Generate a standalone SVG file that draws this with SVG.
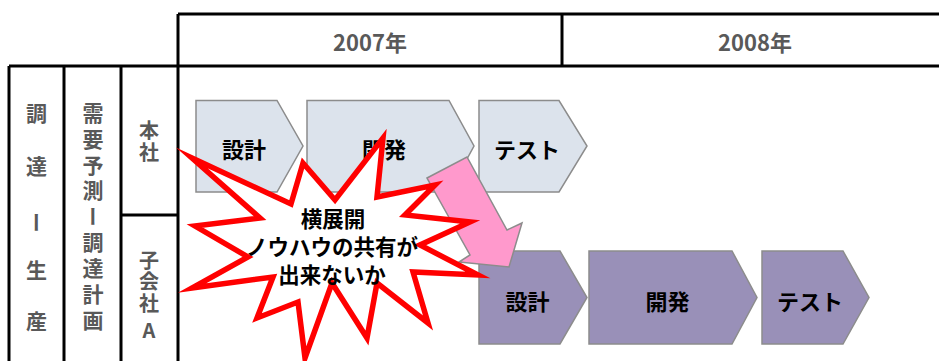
<svg xmlns="http://www.w3.org/2000/svg" width="939" height="361" viewBox="0 0 939 361">
<style>
.grid{stroke:#000;stroke-width:3;fill:none}
.hdr{font-family:"Noto Sans CJK JP","Liberation Sans",sans-serif;font-size:22px;font-weight:bold;fill:#595959;text-anchor:middle;dominant-baseline:central}
.vt{font-family:"Noto Sans CJK JP","Liberation Sans",sans-serif;font-size:21px;font-weight:bold;fill:#595959;text-anchor:middle;writing-mode:vertical-rl;text-orientation:upright}
.sm{font-size:20px}
.c1{fill:#DCE3EC;stroke:#8C8C8C;stroke-width:1.5}
.c2{fill:#9990B8;stroke:#8C8C8C;stroke-width:1.5}
.ct{font-family:"Noto Sans CJK JP","Liberation Sans",sans-serif;font-size:22px;font-weight:bold;fill:#000;text-anchor:middle;dominant-baseline:central}
.st{font-family:"Noto Sans CJK JP","Liberation Sans",sans-serif;font-size:21.5px;font-weight:bold;fill:#000;text-anchor:middle;dominant-baseline:central}
</style>
<rect x="0" y="0" width="939" height="361" fill="#fff"/>
<g id="grid">
<line class="grid" x1="178" y1="14" x2="939" y2="14"/>
<line class="grid" x1="9" y1="66" x2="939" y2="66"/>
<line class="grid" x1="178" y1="14" x2="178" y2="361"/>
<line class="grid" x1="562" y1="14" x2="562" y2="66"/>
<line class="grid" x1="9" y1="66" x2="9" y2="361"/>
<line class="grid" x1="64" y1="66" x2="64" y2="361"/>
<line class="grid" x1="121" y1="66" x2="121" y2="361"/>
<line class="grid" x1="121" y1="215" x2="178" y2="215"/>
</g>
<g id="year2007"><text class="hdr" x="370" y="41">2007年</text></g>
<g id="year2008"><text class="hdr" x="755" y="41">2008年</text></g>
<g id="col-procurement">
<text class="vt" x="36.5" y="113 166 222 270 321">調達ー生産</text>
</g>
<g id="col-plan">
<text class="vt" x="93" y="113 139 165 190 216 242 268 294 320">需要予測ー調達計画</text>
</g>
<g id="row-hq">
<text class="vt sm" x="149" y="130 152">本社</text>
</g>
<g id="row-sub">
<text class="vt sm" x="149" y="260 281.5 303 330">子会社A</text>
</g>
<g id="hq-design"><polygon class="c1" points="196,100.5 277,100.5 303,146 277,192 196,192"/><text class="ct" x="244" y="148">設計</text></g>
<g id="hq-dev"><polygon class="c1" points="307,100.5 449,100.5 474,146 449,192 307,192"/><text class="ct" x="384" y="148">開発</text></g>
<g id="hq-test"><polygon class="c1" points="479,100.5 559,100.5 587,146 559,192 479,192"/><text class="ct" x="527" y="148">テスト</text></g>
<g id="sub-design"><polygon class="c2" points="479,251 560,251 587,297.5 560,344 479,344"/><text class="ct" x="527.5" y="300">設計</text></g>
<g id="sub-dev"><polygon class="c2" points="589,251 732,251 757,297.5 732,344 589,344"/><text class="ct" x="667.5" y="300">開発</text></g>
<g id="sub-test"><polygon class="c2" points="762,251 843,251 869,297.5 843,344 762,344"/><text class="ct" x="810" y="300">テスト</text></g>
<g id="connectors">
<polygon points="427,178 467,157 507,230 522,223 509,267 459,262 470,255" fill="#FF99CC" stroke="#8C8C8C" stroke-width="1.5"/>
</g>
<g id="burst">
<polygon points="192,158 291,204 303,163 335,200 383,138 377,197 435,185 405,215 470,222 420,245 478,275 413,272 428,323 377,283 367,338 332,283 305,358 298,302 257,318 273,277 192,288 248,257 195,226 260,218" fill="#fff" stroke="#FF0000" stroke-width="5.5" stroke-linejoin="miter" stroke-miterlimit="20"/>
<text class="st" x="333" y="217">横展開</text>
<text class="st" x="332" y="245">ノウハウの共有が</text>
<text class="st" x="332" y="273">出来ないか</text>
</g>
</svg>
